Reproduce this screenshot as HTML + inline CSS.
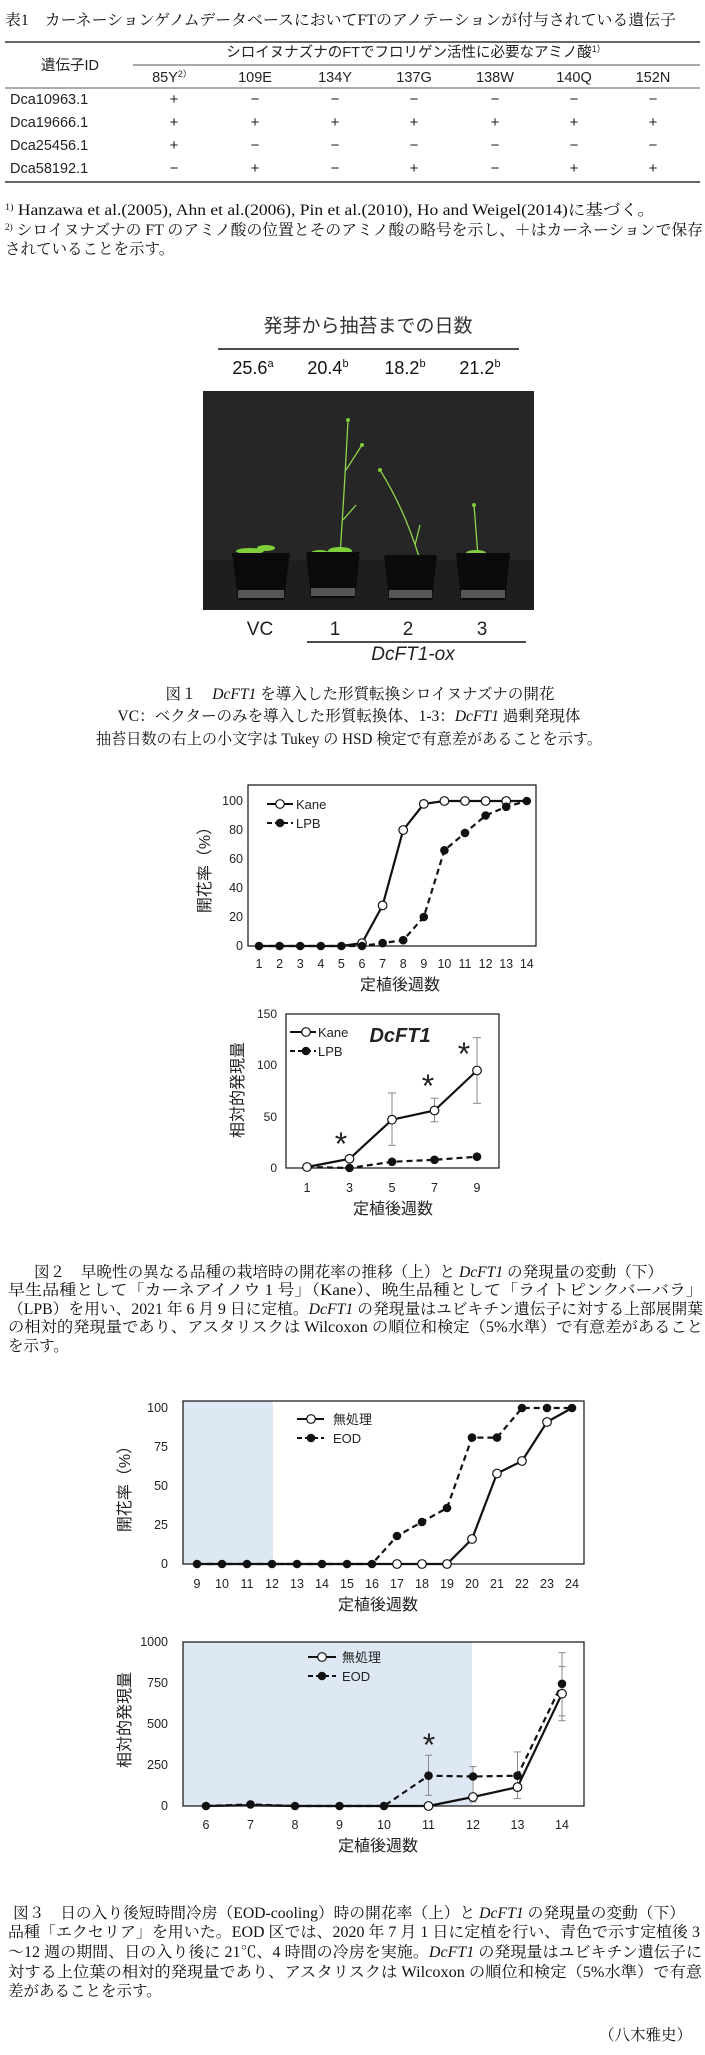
<!DOCTYPE html>
<html><head><meta charset="utf-8"><style>
html,body{margin:0;padding:0;background:#fff;}
svg{display:block;}
.sv{font-family:"Liberation Serif","Noto Serif CJK SC",serif;font-size:15.5px;fill:#111;}
.ss{font-family:"Liberation Sans","Noto Sans CJK JP",sans-serif;fill:#222;}
</style></head><body>
<svg width="705" height="2055" viewBox="0 0 705 2055" xmlns="http://www.w3.org/2000/svg">
<!-- TABLE -->
<text class="sv" x="5" y="25" textLength="671" lengthAdjust="spacingAndGlyphs">表1　カーネーションゲノムデータベースにおいてFTのアノテーションが付与されている遺伝子</text>
<line x1="5" y1="42" x2="700" y2="42" stroke="#333" stroke-width="1.5"/>
<line x1="133" y1="65" x2="700" y2="65" stroke="#555" stroke-width="1"/>
<line x1="5" y1="88" x2="700" y2="88" stroke="#555" stroke-width="1"/>
<line x1="5" y1="182" x2="700" y2="182" stroke="#333" stroke-width="1.5"/>
<g class="ss" font-size="14.5" text-anchor="middle">
<text x="70" y="70">遺伝子ID</text>
<text x="416" y="57">シロイヌナズナのFTでフロリゲン活性に必要なアミノ酸<tspan font-size="9" dy="-5">1）</tspan></text>
<text x="172" y="82">85Y<tspan font-size="9" dy="-5">2）</tspan></text>
<text x="255" y="82">109E</text><text x="335" y="82">134Y</text><text x="414" y="82">137G</text><text x="495" y="82">138W</text><text x="574" y="82">140Q</text><text x="653" y="82">152N</text>
</g>
<g class="ss" font-size="14.5">
<text x="10" y="104">Dca10963.1</text><text x="10" y="127">Dca19666.1</text><text x="10" y="150">Dca25456.1</text><text x="10" y="173">Dca58192.1</text>
</g>
<g class="ss" font-size="15" text-anchor="middle">
<text x="174" y="104">+</text><text x="255" y="104">−</text><text x="335" y="104">−</text><text x="414" y="104">−</text><text x="495" y="104">−</text><text x="574" y="104">−</text><text x="653" y="104">−</text>
<text x="174" y="127">+</text><text x="255" y="127">+</text><text x="335" y="127">+</text><text x="414" y="127">+</text><text x="495" y="127">+</text><text x="574" y="127">+</text><text x="653" y="127">+</text>
<text x="174" y="150">+</text><text x="255" y="150">−</text><text x="335" y="150">−</text><text x="414" y="150">−</text><text x="495" y="150">−</text><text x="574" y="150">−</text><text x="653" y="150">−</text>
<text x="174" y="173">−</text><text x="255" y="173">+</text><text x="335" y="173">−</text><text x="414" y="173">+</text><text x="495" y="173">−</text><text x="574" y="173">+</text><text x="653" y="173">+</text>
</g>
<text class="sv" x="5" y="215" textLength="650" lengthAdjust="spacingAndGlyphs"><tspan font-size="9" dy="-5">1)</tspan><tspan dy="5"> Hanzawa et al.(2005), Ahn et al.(2006), Pin et al.(2010), Ho and Weigel(2014)に基づく。</tspan></text>
<text class="sv" x="5" y="235" textLength="698" lengthAdjust="spacingAndGlyphs"><tspan font-size="9" dy="-5">2)</tspan><tspan dy="5"> シロイヌナズナの FT のアミノ酸の位置とそのアミノ酸の略号を示し、＋はカーネーションで保存</tspan></text>
<text class="sv" x="5" y="254">されていることを示す。</text>

<!-- FIG 1 -->
<g class="ss" text-anchor="middle">
<text x="368" y="332" font-size="19" fill="#333">発芽から抽苔までの日数</text>
<text x="253" y="374" font-size="18" fill="#111">25.6<tspan font-size="11" dy="-7">a</tspan></text>
<text x="328" y="374" font-size="18" fill="#111">20.4<tspan font-size="11" dy="-7">b</tspan></text>
<text x="405" y="374" font-size="18" fill="#111">18.2<tspan font-size="11" dy="-7">b</tspan></text>
<text x="480" y="374" font-size="18" fill="#111">21.2<tspan font-size="11" dy="-7">b</tspan></text>
</g>
<line x1="218" y1="349" x2="519" y2="349" stroke="#111" stroke-width="1.5"/>
<rect x="203" y="391" width="331" height="219" fill="#262626"/>
<rect x="203" y="560" width="331" height="50" fill="#1e1e1e"/>
<g stroke="#8fd44a" stroke-width="1.3" fill="none">
<path d="M340 555 Q345 480 348 420"/><path d="M346 470 L362 445"/><path d="M343 520 L356 505"/>
<path d="M420 560 Q405 510 380 470"/><path d="M415 545 L420 525"/>
<path d="M478 556 Q476 530 474 505"/>
</g>
<g fill="#7fcf3a">
<ellipse cx="250" cy="551" rx="14" ry="3"/><ellipse cx="266" cy="548" rx="9" ry="3"/>
<ellipse cx="320" cy="554" rx="10" ry="4"/><ellipse cx="340" cy="551" rx="12" ry="4"/><ellipse cx="352" cy="555" rx="8" ry="3"/>
<ellipse cx="476" cy="553" rx="10" ry="3"/>
<circle cx="348" cy="420" r="2"/><circle cx="362" cy="445" r="2"/><circle cx="380" cy="470" r="2"/><circle cx="474" cy="505" r="2"/>
</g>
<g fill="#0b0b0b">
<path d="M232 553 L290 553 L284 600 L238 600Z"/>
<path d="M306 552 L360 552 L355 598 L311 598Z"/>
<path d="M384 555 L437 555 L432 600 L389 600Z"/>
<path d="M456 553 L510 553 L505 600 L461 600Z"/>
</g>
<g fill="#555"><rect x="238" y="590" width="46" height="8"/><rect x="311" y="588" width="44" height="8"/><rect x="389" y="590" width="43" height="8"/><rect x="461" y="590" width="44" height="8"/></g>
<g class="ss" text-anchor="middle" font-size="19" fill="#111">
<text x="260" y="635">VC</text><text x="335" y="635">1</text><text x="408" y="635">2</text><text x="482" y="635">3</text>
<text x="413" y="660" font-style="italic">DcFT1-ox</text>
</g>
<line x1="307" y1="642" x2="526" y2="642" stroke="#111" stroke-width="1.5"/>
<g class="sv" text-anchor="middle">
<text x="360" y="699" textLength="389" lengthAdjust="spacingAndGlyphs">図１　<tspan font-style="italic">DcFT1</tspan> を導入した形質転換シロイヌナズナの開花</text>
<text x="349" y="721" textLength="463" lengthAdjust="spacingAndGlyphs">VC：ベクターのみを導入した形質転換体、1-3：<tspan font-style="italic">DcFT1</tspan> 過剰発現体</text>
<text x="349" y="744" textLength="506" lengthAdjust="spacingAndGlyphs">抽苔日数の右上の小文字は Tukey の HSD 検定で有意差があることを示す。</text>
</g>

<!-- FIG 2 TOP -->
<rect x="248" y="785" width="288" height="161" fill="none" stroke="#111" stroke-width="1.2"/>
<g class="ss" font-size="12.5" text-anchor="end" fill="#444">
<text x="243" y="950">0</text><text x="243" y="921">20</text><text x="243" y="892">40</text><text x="243" y="863">60</text><text x="243" y="834">80</text><text x="243" y="805">100</text>
</g>
<g class="ss" font-size="12.5" text-anchor="middle" fill="#444">
<text x="259" y="968">1</text><text x="279.6" y="968">2</text><text x="300.2" y="968">3</text><text x="320.8" y="968">4</text><text x="341.4" y="968">5</text><text x="362" y="968">6</text><text x="382.6" y="968">7</text><text x="403.2" y="968">8</text><text x="423.8" y="968">9</text><text x="444.4" y="968">10</text><text x="465" y="968">11</text><text x="485.6" y="968">12</text><text x="506.2" y="968">13</text><text x="526.8" y="968">14</text>
</g>
<text class="ss" x="400" y="990" font-size="16" text-anchor="middle" fill="#333">定植後週数</text>
<text class="ss" transform="translate(210,866) rotate(-90)" font-size="16" text-anchor="middle" fill="#333">開花率（%）</text>
<polyline fill="none" stroke="#111" stroke-width="2.2" points="259,946 279.6,946 300.2,946 320.8,946 341.4,946 362,943.1 382.6,905.4 403.2,830 423.8,803.9 444.4,801 465,801 485.6,801 506.2,801 526.8,801"/>
<polyline fill="none" stroke="#111" stroke-width="2.2" stroke-dasharray="6,4" points="259,946 279.6,946 300.2,946 320.8,946 341.4,946 362,946 382.6,943.1 403.2,940.2 423.8,917 444.4,850.3 465,832.9 485.6,815.5 506.2,806.8 526.8,801"/>
<g fill="#fff" stroke="#111" stroke-width="1.2">
<circle cx="362" cy="943.1" r="4.3"/><circle cx="382.6" cy="905.4" r="4.3"/><circle cx="403.2" cy="830" r="4.3"/><circle cx="423.8" cy="803.9" r="4.3"/><circle cx="444.4" cy="801" r="4.3"/><circle cx="465" cy="801" r="4.3"/><circle cx="485.6" cy="801" r="4.3"/><circle cx="506.2" cy="801" r="4.3"/>
</g>
<g fill="#111">
<circle cx="259" cy="946" r="4.3"/><circle cx="279.6" cy="946" r="4.3"/><circle cx="300.2" cy="946" r="4.3"/><circle cx="320.8" cy="946" r="4.3"/><circle cx="341.4" cy="946" r="4.3"/><circle cx="362" cy="946" r="4.3"/><circle cx="382.6" cy="943.1" r="4.3"/><circle cx="403.2" cy="940.2" r="4.3"/><circle cx="423.8" cy="917" r="4.3"/><circle cx="444.4" cy="850.3" r="4.3"/><circle cx="465" cy="832.9" r="4.3"/><circle cx="485.6" cy="815.5" r="4.3"/><circle cx="506.2" cy="806.8" r="4.3"/><circle cx="526.8" cy="801" r="4.3"/>
</g>
<line x1="267" y1="804" x2="293" y2="804" stroke="#111" stroke-width="2"/><circle cx="280" cy="804" r="4.3" fill="#fff" stroke="#111" stroke-width="1.2"/>
<line x1="267" y1="823" x2="293" y2="823" stroke="#111" stroke-width="2" stroke-dasharray="5,3"/><circle cx="280" cy="823" r="4.3" fill="#111"/>
<text class="ss" x="296" y="809" font-size="13" fill="#333">Kane</text>
<text class="ss" x="296" y="828" font-size="13" fill="#333">LPB</text>

<!-- FIG 2 BOTTOM -->
<rect x="286" y="1014" width="213" height="154" fill="none" stroke="#111" stroke-width="1.2"/>
<g class="ss" font-size="12" text-anchor="end" fill="#555">
<text x="277" y="1172">0</text><text x="277" y="1121">50</text><text x="277" y="1069">100</text><text x="277" y="1018">150</text>
</g>
<g class="ss" font-size="12.5" text-anchor="middle" fill="#444">
<text x="307" y="1192">1</text><text x="349.5" y="1192">3</text><text x="392" y="1192">5</text><text x="434.5" y="1192">7</text><text x="477" y="1192">9</text>
</g>
<text class="ss" x="393" y="1214" font-size="16" text-anchor="middle" fill="#333">定植後週数</text>
<text class="ss" transform="translate(243,1090) rotate(-90)" font-size="16" text-anchor="middle" fill="#333">相対的発現量</text>
<g stroke="#888" stroke-width="1">
<line x1="392" y1="1093" x2="392" y2="1145.4"/><line x1="388" y1="1093" x2="396" y2="1093"/><line x1="388" y1="1145.4" x2="396" y2="1145.4"/>
<line x1="434.5" y1="1098.2" x2="434.5" y2="1121.8"/><line x1="430.5" y1="1098.2" x2="438.5" y2="1098.2"/><line x1="430.5" y1="1121.8" x2="438.5" y2="1121.8"/>
<line x1="477" y1="1037.6" x2="477" y2="1103.3"/><line x1="473" y1="1037.6" x2="481" y2="1037.6"/><line x1="473" y1="1103.3" x2="481" y2="1103.3"/>
</g>
<polyline fill="none" stroke="#111" stroke-width="2.2" points="307,1167 349.5,1158.8 392,1119.7 434.5,1110.5 477,1070.5"/>
<polyline fill="none" stroke="#111" stroke-width="2.2" stroke-dasharray="6,4" points="307,1167 349.5,1168 392,1161.8 434.5,1159.8 477,1156.7"/>
<g fill="#111"><circle cx="307" cy="1167" r="4.3"/><circle cx="349.5" cy="1168" r="4.3"/><circle cx="392" cy="1161.8" r="4.3"/><circle cx="434.5" cy="1159.8" r="4.3"/><circle cx="477" cy="1156.7" r="4.3"/></g>
<g fill="#fff" stroke="#111" stroke-width="1.2"><circle cx="307" cy="1167" r="4.3"/><circle cx="349.5" cy="1158.8" r="4.3"/><circle cx="392" cy="1119.7" r="4.3"/><circle cx="434.5" cy="1110.5" r="4.3"/><circle cx="477" cy="1070.5" r="4.3"/></g>
<g class="ss" font-size="32" text-anchor="middle" fill="#111"><text x="341" y="1155">*</text><text x="428" y="1097">*</text><text x="464" y="1065">*</text></g>
<text class="ss" x="400" y="1042" font-size="20" font-weight="bold" font-style="italic" text-anchor="middle" fill="#111">DcFT1</text>
<line x1="290" y1="1032" x2="316" y2="1032" stroke="#111" stroke-width="2"/><circle cx="306" cy="1032" r="4.3" fill="#fff" stroke="#111" stroke-width="1.2"/>
<line x1="290" y1="1051" x2="316" y2="1051" stroke="#111" stroke-width="2" stroke-dasharray="5,3"/><circle cx="306" cy="1051" r="4.3" fill="#111"/>
<text class="ss" x="318" y="1037" font-size="13" fill="#333">Kane</text>
<text class="ss" x="318" y="1056" font-size="13" fill="#333">LPB</text>

<!-- FIG 2 CAPTION -->
<g class="sv">
<text x="34" y="1277" textLength="629" lengthAdjust="spacingAndGlyphs">図２　早晩性の異なる品種の栽培時の開花率の推移（上）と <tspan font-style="italic">DcFT1</tspan> の発現量の変動（下）</text>
<text x="8" y="1295" textLength="695" lengthAdjust="spacingAndGlyphs">早生品種として「カーネアイノウ 1 号」（Kane）、晩生品種として「ライトピンクバーバラ」</text>
<text x="8" y="1314" textLength="695" lengthAdjust="spacingAndGlyphs">（LPB）を用い、2021 年 6 月 9 日に定植。<tspan font-style="italic">DcFT1</tspan> の発現量はユビキチン遺伝子に対する上部展開葉</text>
<text x="8" y="1332" textLength="695" lengthAdjust="spacingAndGlyphs">の相対的発現量であり、アスタリスクは Wilcoxon の順位和検定（5%水準）で有意差があること</text>
<text x="8" y="1351">を示す。</text>
</g>

<!-- FIG 3 TOP -->
<rect x="183" y="1401" width="90" height="163" fill="#dde8f4"/>
<rect x="183" y="1401" width="401" height="163" fill="none" stroke="#111" stroke-width="1.2"/>
<g class="ss" font-size="12.5" text-anchor="end" fill="#444">
<text x="168" y="1568">0</text><text x="168" y="1529">25</text><text x="168" y="1490">50</text><text x="168" y="1451">75</text><text x="168" y="1412">100</text>
</g>
<g class="ss" font-size="12.5" text-anchor="middle" fill="#444">
<text x="197" y="1588">9</text><text x="222" y="1588">10</text><text x="247" y="1588">11</text><text x="272" y="1588">12</text><text x="297" y="1588">13</text><text x="322" y="1588">14</text><text x="347" y="1588">15</text><text x="372" y="1588">16</text><text x="397" y="1588">17</text><text x="422" y="1588">18</text><text x="447" y="1588">19</text><text x="472" y="1588">20</text><text x="497" y="1588">21</text><text x="522" y="1588">22</text><text x="547" y="1588">23</text><text x="572" y="1588">24</text>
</g>
<text class="ss" x="378" y="1610" font-size="16" text-anchor="middle" fill="#333">定植後週数</text>
<text class="ss" transform="translate(130,1485) rotate(-90)" font-size="16" text-anchor="middle" fill="#333">開花率（%）</text>
<polyline fill="none" stroke="#111" stroke-width="2.2" points="197,1564 447,1564 472,1539 497,1473.5 522,1461 547,1422 572,1408"/>
<polyline fill="none" stroke="#111" stroke-width="2.2" stroke-dasharray="6,4" points="197,1564 372,1564 397,1536 422,1522 447,1508 472,1437.6 497,1437.6 522,1408 547,1408 572,1408"/>
<g fill="#fff" stroke="#111" stroke-width="1.2"><circle cx="397" cy="1564" r="4.3"/><circle cx="422" cy="1564" r="4.3"/><circle cx="447" cy="1564" r="4.3"/><circle cx="472" cy="1539" r="4.3"/><circle cx="497" cy="1473.5" r="4.3"/><circle cx="522" cy="1461" r="4.3"/><circle cx="547" cy="1422" r="4.3"/></g>
<g fill="#111"><circle cx="197" cy="1564" r="4.3"/><circle cx="222" cy="1564" r="4.3"/><circle cx="247" cy="1564" r="4.3"/><circle cx="272" cy="1564" r="4.3"/><circle cx="297" cy="1564" r="4.3"/><circle cx="322" cy="1564" r="4.3"/><circle cx="347" cy="1564" r="4.3"/><circle cx="372" cy="1564" r="4.3"/><circle cx="397" cy="1536" r="4.3"/><circle cx="422" cy="1522" r="4.3"/><circle cx="447" cy="1508" r="4.3"/><circle cx="472" cy="1437.6" r="4.3"/><circle cx="497" cy="1437.6" r="4.3"/><circle cx="522" cy="1408" r="4.3"/><circle cx="547" cy="1408" r="4.3"/><circle cx="572" cy="1408" r="4.3"/></g>
<line x1="297" y1="1419" x2="324" y2="1419" stroke="#111" stroke-width="2"/><circle cx="311" cy="1419" r="4.3" fill="#fff" stroke="#111" stroke-width="1.2"/>
<line x1="297" y1="1438" x2="324" y2="1438" stroke="#111" stroke-width="2" stroke-dasharray="5,3"/><circle cx="311" cy="1438" r="4.3" fill="#111"/>
<text class="ss" x="333" y="1424" font-size="13" fill="#333">無処理</text>
<text class="ss" x="333" y="1443" font-size="13" fill="#333">EOD</text>

<!-- FIG 3 BOTTOM -->
<rect x="183" y="1642" width="289" height="164" fill="#dde8f4"/>
<rect x="183" y="1642" width="401" height="164" fill="none" stroke="#111" stroke-width="1.2"/>
<g class="ss" font-size="12.5" text-anchor="end" fill="#444">
<text x="168" y="1810">0</text><text x="168" y="1769">250</text><text x="168" y="1728">500</text><text x="168" y="1687">750</text><text x="168" y="1646">1000</text>
</g>
<g class="ss" font-size="12.5" text-anchor="middle" fill="#444">
<text x="206" y="1829">6</text><text x="250.5" y="1829">7</text><text x="295" y="1829">8</text><text x="339.5" y="1829">9</text><text x="384" y="1829">10</text><text x="428.5" y="1829">11</text><text x="473" y="1829">12</text><text x="517.5" y="1829">13</text><text x="562" y="1829">14</text>
</g>
<text class="ss" x="378" y="1851" font-size="16" text-anchor="middle" fill="#333">定植後週数</text>
<text class="ss" transform="translate(130,1720) rotate(-90)" font-size="16" text-anchor="middle" fill="#333">相対的発現量</text>
<g stroke="#888" stroke-width="1">
<line x1="428.5" y1="1755.2" x2="428.5" y2="1795.3"/><line x1="425" y1="1755.2" x2="432" y2="1755.2"/><line x1="425" y1="1795.3" x2="432" y2="1795.3"/>
<line x1="473" y1="1766.6" x2="473" y2="1802"/><line x1="469.5" y1="1766.6" x2="476.5" y2="1766.6"/><line x1="469.5" y1="1802" x2="476.5" y2="1802"/>
<line x1="517.5" y1="1751.9" x2="517.5" y2="1798.6"/><line x1="514" y1="1751.9" x2="521" y2="1751.9"/><line x1="514" y1="1798.6" x2="521" y2="1798.6"/>
<line x1="562" y1="1652.7" x2="562" y2="1720.7"/><line x1="558.5" y1="1652.7" x2="565.5" y2="1652.7"/><line x1="558.5" y1="1666.6" x2="565.5" y2="1666.6"/><line x1="558.5" y1="1715.8" x2="565.5" y2="1715.8"/><line x1="558.5" y1="1720.7" x2="565.5" y2="1720.7"/>
</g>
<polyline fill="none" stroke="#111" stroke-width="2.2" points="206,1806 250.5,1805.2 295,1806 339.5,1806 384,1806 428.5,1806 473,1797 517.5,1787.1 562,1693.7"/>
<polyline fill="none" stroke="#111" stroke-width="2.2" stroke-dasharray="6,4" points="206,1806 250.5,1804.4 295,1806 339.5,1806 384,1806 428.5,1775.7 473,1776.5 517.5,1775.7 562,1683.8"/>
<g fill="#111"><circle cx="206" cy="1806" r="4.3"/><circle cx="250.5" cy="1804.4" r="4.3"/><circle cx="295" cy="1806" r="4.3"/><circle cx="339.5" cy="1806" r="4.3"/><circle cx="384" cy="1806" r="4.3"/><circle cx="428.5" cy="1775.7" r="4.3"/><circle cx="473" cy="1776.5" r="4.3"/><circle cx="517.5" cy="1775.7" r="4.3"/><circle cx="562" cy="1683.8" r="4.3"/></g>
<g fill="#fff" stroke="#111" stroke-width="1.2"><circle cx="428.5" cy="1806" r="4.3"/><circle cx="473" cy="1797" r="4.3"/><circle cx="517.5" cy="1787.1" r="4.3"/><circle cx="562" cy="1693.7" r="4.3"/></g>
<text class="ss" x="429" y="1756" font-size="32" text-anchor="middle" fill="#111">*</text>
<line x1="308" y1="1657" x2="336" y2="1657" stroke="#111" stroke-width="2"/><circle cx="322" cy="1657" r="4.3" fill="#fff" stroke="#111" stroke-width="1.2"/>
<line x1="308" y1="1676" x2="336" y2="1676" stroke="#111" stroke-width="2" stroke-dasharray="5,3"/><circle cx="322" cy="1676" r="4.3" fill="#111"/>
<text class="ss" x="342" y="1662" font-size="13" fill="#333">無処理</text>
<text class="ss" x="342" y="1681" font-size="13" fill="#333">EOD</text>

<!-- FIG 3 CAPTION -->
<g class="sv">
<text x="13" y="1918" textLength="672" lengthAdjust="spacingAndGlyphs">図３　日の入り後短時間冷房（EOD-cooling）時の開花率（上）と <tspan font-style="italic">DcFT1</tspan> の発現量の変動（下）</text>
<text x="8" y="1937" textLength="692" lengthAdjust="spacingAndGlyphs">品種「エクセリア」を用いた。EOD 区では、2020 年 7 月 1 日に定植を行い、青色で示す定植後 3</text>
<text x="8" y="1957" textLength="694" lengthAdjust="spacingAndGlyphs">～12 週の期間、日の入り後に 21℃、4 時間の冷房を実施。<tspan font-style="italic">DcFT1</tspan> の発現量はユビキチン遺伝子に</text>
<text x="8" y="1977" textLength="694" lengthAdjust="spacingAndGlyphs">対する上位葉の相対的発現量であり、アスタリスクは Wilcoxon の順位和検定（5%水準）で有意</text>
<text x="8" y="1996">差があることを示す。</text>
<text x="692" y="2040" text-anchor="end">（八木雅史）</text>
</g>
</svg>
</body></html>
